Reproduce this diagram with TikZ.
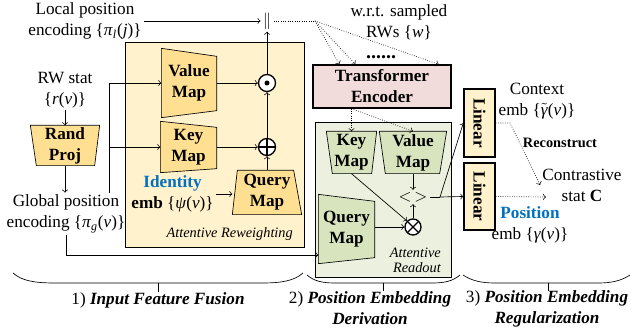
\documentclass[tikz,border=0pt]{standalone}
\usepackage{fontspec}
\setmainfont{Liberation Serif}
\usetikzlibrary{arrows,calc}

\pgfdeclarelayer{back}
\pgfdeclarelayer{mid}
\pgfsetlayers{back,mid,main}

\definecolor{ybg}{RGB}{255,242,204}
\definecolor{yfill}{RGB}{255,224,146}
\definecolor{gbg}{RGB}{235,241,222}
\definecolor{gfill}{RGB}{215,228,189}
\definecolor{pinkfill}{RGB}{242,220,219}
\definecolor{blutxt}{RGB}{0,112,192}

\tikzset{
  sized/.style 2 args={minimum width=#1*0.6pt, minimum height=#2*0.6pt, inner sep=0pt},
  txt/.style={align=center, inner sep=1pt},
  mapfont/.style={font=\fontsize{10.3}{12.6}\selectfont\bfseries, align=center},
  smallit/.style={font=\fontsize{8.6}{9}\selectfont\itshape},
  opnode/.style={circle, draw, fill=white, minimum size=17*0.6pt, inner sep=0pt},
  odotnode/.style={opnode, path picture={\fill[black] (path picture bounding box.center) circle (1.5pt);}},
  oplusnode/.style={opnode, path picture={\draw (path picture bounding box.north) -- (path picture bounding box.south) (path picture bounding box.west) -- (path picture bounding box.east);}},
  otimesnode/.style={opnode, path picture={\draw (path picture bounding box.north west) -- (path picture bounding box.south east) (path picture bounding box.north east) -- (path picture bounding box.south west);}},
}

\begin{document}
\begin{tikzpicture}[thick, x=0.6pt, y=-0.6pt, every node/.style={font=\fontsize{10.3}{12.6}\selectfont}]
      \useasboundingbox (0,0) rectangle (631,334);

      % input features
      \node[txt] (lpe) at (85,21) {Local position\\encoding \{\textit{π}\textsubscript{\textit{l}}(\textit{j})\}};
      \node[txt] (rws) at (65,90) {RW stat\\\{\textit{r}(\textit{v})\}};
      \node[mapfont, sized={68}{39}] (rp) at (65,145.5) {Rand\\Proj};
      \node[txt] (gpe) at (66,214) {Global position\\encoding \{\textit{π}\textsubscript{\textit{g}}(\textit{v})\}};
      \coordinate (gsplit) at (109,193);

      % attentive reweighting
      \node[mapfont, sized={54}{68}] (vm) at (189,83) {Value\\Map};
      \node[mapfont, sized={55}{50}] (km) at (188.5,147) {Key\\Map};
      \node[mapfont, sized={68}{43}] (qm) at (267,192.5) {Query\\Map};
      \node[txt] (idt) at (172.5,194) {\textcolor{blutxt}{\bfseries Identity}\\\textbf{emb} \{\textit{ψ}(\textit{v})\}};
      \node[odotnode] (odot) at (267,83) {};
      \node[oplusnode] (opl) at (267,147) {};
      \node[inner sep=1pt] (cat) at (267,21) {$\|$};
      \node[smallit, anchor=east] (arlbl) at (299,234) {Attentive Reweighting};

      % transformer and readout
      \node[txt] (wrt) at (399,22) {w.r.t. sampled\\RWs \{\textit{w}\}};
      \node[font=\fontsize{12}{12}\selectfont\bfseries, inner sep=0pt] (dots) at (381,57) {......};
      \coordinate (fk) at (315,21);
      \node[mapfont, draw, fill=pinkfill, sized={138}{43}] (tf) at (382,86.5) {Transformer\\Encoder};
      \node[mapfont, sized={49}{41}] (gkm) at (351.5,152.5) {Key\\Map};
      \node[mapfont, sized={66}{41}] (gvm) at (413,152.5) {Value\\Map};
      \node[mapfont, sized={55}{68}] (gqm) at (346.5,229) {Query\\Map};
      \node[inner sep=1pt] (ang) at (413,197) {$<\,>$};
      \node[otimesnode, minimum size=16*0.6pt] (otm) at (413,227) {};
      \node[smallit, anchor=east, align=right] (rolbl) at (447,260.5) {Attentive\\Readout};
      \coordinate (br) at (440,197);

      % regularization
      \node[mapfont, draw, fill=ybg, sized={31}{68}] (lin1) at (479.5,123) {\rotatebox{-90}{Linear}};
      \node[mapfont, draw, fill=ybg, sized={31}{67}] (lin2) at (479.5,196.5) {\rotatebox{-90}{Linear}};
      \node[txt] (ctx) at (537,101) {Context\\emb \{$\tilde{\mbox{\textit{γ}}}$(\textit{v})\}};
      \coordinate (rc) at (510,123);
      \node[font=\fontsize{8.6}{10}\selectfont\bfseries] (rclbl) at (560,143) {Reconstruct};
      \node[txt] (cst) at (582,185) {Contrastive\\stat \textbf{C}};
      \coordinate (cend) at (546,197);
      \node[txt] (pos) at (530,225) {\textcolor{blutxt}{\bfseries Position}\\emb \{\textit{γ}(\textit{v})\}};

      \begin{pgfonlayer}{back}
          \filldraw[fill=ybg] (125,42) rectangle (304,247);
          \filldraw[fill=gbg] (315,122) rectangle (451,277);
      \end{pgfonlayer}
      \begin{pgfonlayer}{mid}
          \filldraw[fill=yfill] (rp.north west) -- (rp.north east) -- ($(rp.south east)+(-5,0)$) -- ($(rp.south west)+(6,0)$) -- cycle;
          \filldraw[fill=yfill] (vm.north west) -- ($(vm.north east)+(0,8)$) -- ($(vm.south east)+(0,-7)$) -- (vm.south west) -- cycle;
          \filldraw[fill=yfill] (km.north west) -- ($(km.north east)+(0,6)$) -- ($(km.south east)+(0,-4)$) -- (km.south west) -- cycle;
          \filldraw[fill=yfill] (qm.south west) -- ($(qm.north west)+(5,0)$) -- ($(qm.north east)+(-8,0)$) -- (qm.south east) -- cycle;
          \filldraw[fill=gfill] (gkm.north west) -- (gkm.north east) -- ($(gkm.south east)+(-5,0)$) -- ($(gkm.south west)+(6,0)$) -- cycle;
          \filldraw[fill=gfill] (gvm.north west) -- (gvm.north east) -- ($(gvm.south east)+(-7,0)$) -- ($(gvm.south west)+(6,0)$) -- cycle;
          \filldraw[fill=gfill] (gqm.north west) -- ($(gqm.north east)+(0,7)$) -- ($(gqm.south east)+(0,-6)$) -- (gqm.south west) -- cycle;
      \end{pgfonlayer}

      % connectors
      \draw[->] (lpe.east) -- (cat.west);
      \draw[->] (rws.south) -- (rp.north);
      \draw[->] (rp.south) -- (rp.south |- gpe.north);
      \draw[->] (gsplit) |- (vm.west);
      \draw[->] (gsplit) |- (km.west);
      \draw[->] (vm.east) -- (odot.west);
      \draw[->] (km.east) -- (opl.west);
      \draw[->] (qm.north) -- (opl.south);
      \draw[->] (opl.north) -- (odot.south);
      \draw[->] (odot.north) -- (cat.south);
      \draw[->] (idt.east) -- (idt.east -| qm.west);
      \draw[->] (gpe.south) |- (gqm.west |- 0,255);
      \draw[densely dotted] (cat.east) -- (fk);
      \draw[densely dotted,->] (fk) -- ($(tf.north west)+(27,0)$);
      \draw[densely dotted,->] (fk) -- ($(tf.north west)+(43,0)$);
      \draw[densely dotted,->] (fk) -- ($(tf.north east)+(-13,0)$);
      \draw[densely dotted,->] (gkm.north |- tf.south) -- (gkm.north);
      \draw[densely dotted,->] (gkm.north |- tf.south) -- (gvm.north);
      \draw[->] (gvm.south) -- (ang.north);
      \draw[->] (otm.north) -- (ang.south);
      \draw[->] (gqm.east |- otm.west) -- (otm.west);
      \draw[->] (gkm.south) -- (otm.north west);
      \draw (ang.east) -- (br);
      \draw[->] (br) -- (lin1.west);
      \draw[->] (br) -- (lin2.west);
      \draw[densely dotted,->] (lin1.east) -- (rc) -- (cst.west);
      \draw[densely dotted,->] (lin2.east) -- (cend);

      % braces
      \draw (13,273) .. controls (22,281) and (35,283) .. (55,283) -- (262,283) .. controls (281,283) and (294,281) .. (303,273);
      \draw (158,283) -- (158,292);
      \draw (307,275) .. controls (314,281) and (322,283) .. (335,283) -- (432,283) .. controls (445,283) and (453,281) .. (460,275);
      \draw (383,283) -- (383,291);
      \draw (463,275) .. controls (472,281) and (482,283) .. (495,283) -- (598,283) .. controls (611,283) and (621,281) .. (630,275);
      \draw (548,283) -- (548,291);
      \node (lab1) at (158,300) {1) \textbf{\textit{Input Feature Fusion}}};
      \node[align=center] (lab2) at (370,308.5) {2) \textbf{\textit{Position Embedding}}\\\textbf{\textit{Derivation}}};
      \node[align=center] (lab3) at (547,308.5) {3) \textbf{\textit{Position Embedding}}\\\textbf{\textit{Regularization}}};
    \end{tikzpicture}
\end{document}
